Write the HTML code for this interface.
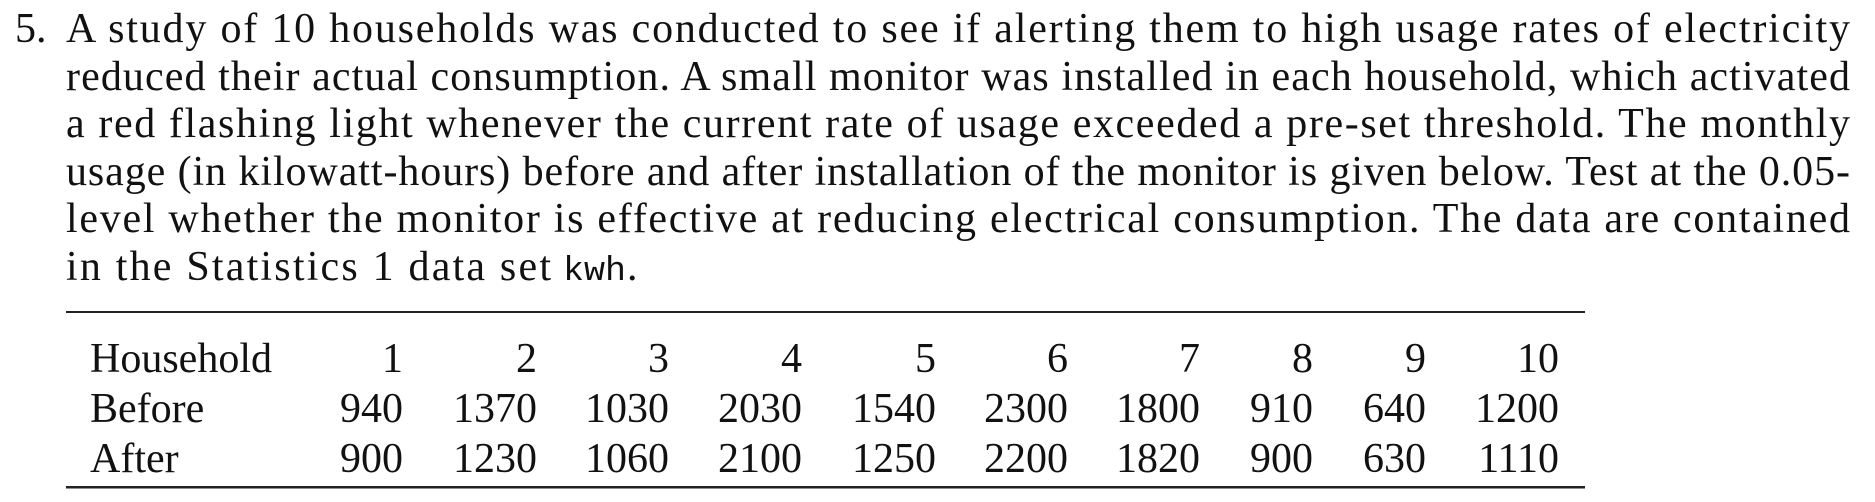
<!DOCTYPE html>
<html><head><meta charset="utf-8"><style>
html,body{margin:0;padding:0;background:#fff;}
svg{display:block;}
text{font-family:"Liberation Serif",serif;font-size:42px;fill:#111;}
</style></head><body>
<svg width="1875" height="502" viewBox="0 0 1875 502">
<text x="15" y="42">5.</text>
<g>
<text x="66" y="42" textLength="1784" lengthAdjust="spacing">A study of 10 households was conducted to see if alerting them to high usage rates of electricity</text>
<text x="66" y="90" textLength="1784" lengthAdjust="spacing">reduced their actual consumption. A small monitor was installed in each household, which activated</text>
<text x="66" y="137" textLength="1784" lengthAdjust="spacing">a red flashing light whenever the current rate of usage exceeded a pre-set threshold. The monthly</text>
<text x="66" y="185" textLength="1784" lengthAdjust="spacing">usage (in kilowatt-hours) before and after installation of the monitor is given below. Test at the 0.05-</text>
<text x="66" y="232" textLength="1784" lengthAdjust="spacing">level whether the monitor is effective at reducing electrical consumption. The data are contained</text>
<text x="66" y="280" textLength="485" lengthAdjust="spacing">in the Statistics 1 data set</text>
<text x="563" y="280" style="font-family:'Liberation Mono',monospace;font-size:34px" textLength="63" lengthAdjust="spacingAndGlyphs">kwh</text>
<text x="627" y="280">.</text>
</g>
<rect x="66" y="311" width="1519" height="2" fill="#222"/>
<rect x="66" y="486" width="1519" height="2.5" fill="#222"/>
<g id="tbl"></g>
</svg>
<script>
const households=["1","2","3","4","5","6","7","8","9","10"];
const before=[940,1370,1030,2030,1540,2300,1800,910,640,1200];
const after=[900,1230,1060,2100,1250,2200,1820,900,630,1110];
const colRight=[403,537,669,802,936,1068,1200,1313,1426,1559];
const rows=[["Household",households,372],["Before",before,422],["After",after,472]];
const NS="http://www.w3.org/2000/svg";
const g=document.getElementById('tbl');
rows.forEach(function(r){
  const lab=document.createElementNS(NS,'text');
  lab.setAttribute('x',90);lab.setAttribute('y',r[2]);lab.textContent=r[0];
  
  
  g.appendChild(lab);
  r[1].forEach(function(v,i){
    const t=document.createElementNS(NS,'text');
    t.setAttribute('x',colRight[i]);t.setAttribute('y',r[2]);
    t.setAttribute('text-anchor','end');t.textContent=v;
    
    
    g.appendChild(t);
  });
});
</script>
</body></html>
